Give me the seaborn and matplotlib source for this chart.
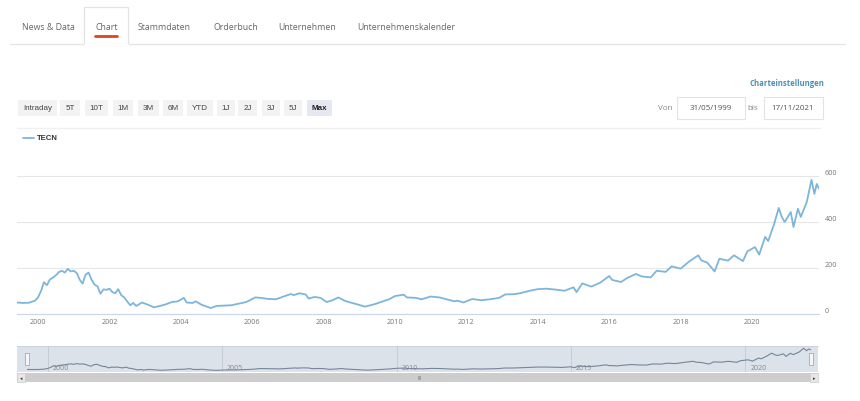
import numpy as np
import pandas as pd
import seaborn as sns
import matplotlib.pyplot as plt
from matplotlib.patches import Rectangle
from matplotlib.lines import Line2D
import matplotlib.transforms as mtransforms

# --- data (TECN, monthly-ish) ---
dates = [
    '1999-05-31', '1999-08-01', '1999-10-01', '1999-12-01', '2000-01-01', '2000-02-01',
    '2000-03-01', '2000-04-01', '2000-05-01', '2000-06-01', '2000-07-01', '2000-08-01',
    '2000-09-01', '2000-10-01', '2000-11-01', '2000-12-01', '2001-01-01', '2001-02-01',
    '2001-03-01', '2001-04-01', '2001-05-01', '2001-06-01', '2001-07-01', '2001-08-01',
    '2001-09-01', '2001-10-01', '2001-11-01', '2001-12-01', '2002-01-01', '2002-02-01',
    '2002-03-01', '2002-04-01', '2002-05-01', '2002-06-01', '2002-07-01', '2002-08-01',
    '2002-09-01', '2002-10-01', '2002-12-01', '2003-02-01', '2003-04-01', '2003-06-01',
    '2003-08-01', '2003-10-01', '2003-12-01', '2004-02-01', '2004-03-01', '2004-05-01',
    '2004-06-01', '2004-08-01', '2004-11-01', '2005-01-01', '2005-06-01', '2005-11-01',
    '2006-02-01', '2006-04-01', '2006-06-01', '2006-09-01', '2006-12-01', '2007-02-01',
    '2007-03-01', '2007-05-01', '2007-07-01', '2007-08-01', '2007-10-01', '2007-12-01',
    '2008-02-01', '2008-04-01', '2008-06-01', '2008-08-01', '2008-10-01', '2008-12-01',
    '2009-03-01', '2009-06-01', '2009-09-01', '2009-11-01', '2010-01-01', '2010-04-01',
    '2010-05-01', '2010-08-01', '2010-10-01', '2011-01-01', '2011-04-01', '2011-07-01',
    '2011-09-01', '2011-10-01', '2011-12-01', '2012-03-01', '2012-06-01', '2012-09-01',
    '2012-12-01', '2013-02-01', '2013-05-01', '2013-07-01', '2013-10-01', '2014-01-01',
    '2014-04-01', '2014-07-01', '2014-10-01', '2015-01-01', '2015-02-01', '2015-04-01',
    '2015-07-01', '2015-10-01', '2016-01-01', '2016-02-01', '2016-05-01', '2016-07-01',
    '2016-10-01', '2016-12-01', '2017-03-01', '2017-05-01', '2017-08-01', '2017-10-01',
    '2018-01-01', '2018-04-01', '2018-07-01', '2018-08-01', '2018-10-01', '2018-12-15',
    '2019-02-01', '2019-05-01', '2019-07-01', '2019-10-01', '2019-11-15', '2020-02-01',
    '2020-03-15', '2020-05-15', '2020-06-15', '2020-08-15', '2020-10-01', '2020-11-01',
    '2020-12-01', '2021-02-01', '2021-03-01', '2021-04-15', '2021-05-15', '2021-07-15',
    '2021-09-01', '2021-10-01', '2021-10-25', '2021-11-17',
]
tecn = [
    50, 48, 49, 58, 72, 100,
    138, 125, 150, 158, 168, 182,
    188, 180, 196, 185, 188, 178,
    150, 132, 170, 180, 150, 128,
    120, 88, 107, 105, 110, 95,
    90, 108, 82, 72, 55, 38,
    48, 35, 50, 40, 29, 35,
    42, 52, 55, 70, 50, 48,
    55, 40, 26, 35, 38, 52,
    72, 70, 66, 64, 78, 87,
    82, 90, 85, 67, 74, 70,
    52, 60, 72, 58, 50, 43,
    32, 42, 55, 64, 78, 84,
    72, 70, 64, 76, 72, 62,
    55, 58, 50, 65, 60, 64,
    70, 85, 86, 90, 100, 108,
    110, 106, 101, 116, 95, 133,
    119, 136, 165, 148, 139, 156,
    174, 163, 159, 188, 183, 207,
    197, 229, 255, 233, 223, 185,
    240, 232, 255, 230, 272, 291,
    258, 335, 317, 391, 461, 422,
    400, 443, 378, 457, 422, 487,
    583, 522, 565, 545,
]
y_ticks = [0, 200, 400, 600]
x_years = list(range(2000, 2021, 2))
nav_years = [2000, 2005, 2010, 2015, 2020]
tabs = ['News & Data', 'Chart', 'Stammdaten', 'Orderbuch', 'Unternehmen', 'Unternehmenskalender']
buttons = ['Intraday', '5T', '10T', '1M', '3M', '6M', 'YTD', '1J', '2J', '3J', '5J', 'Max']
date_from = '31/05/1999'
date_to = '17/11/2021'

df = pd.DataFrame({'date': pd.to_datetime(dates), 'TECN': tecn})

sns.set_theme(style='white')
plt.rcParams['font.family'] = ['Open Sans', 'DejaVu Sans']

W, H = 860, 402
fig = plt.figure(figsize=(W / 100, H / 100), dpi=100)


def fx(x):
    return x / W


def fy(y):
    return 1 - y / H


def rect(x0, y0, x1, y1, **kw):
    fig.add_artist(Rectangle((fx(x0), fy(y1)), fx(x1) - fx(x0), (y1 - y0) / H,
                             transform=fig.transFigure, **kw))


def hline(x0, x1, y, **kw):
    fig.add_artist(Line2D([fx(x0), fx(x1)], [fy(y), fy(y)], transform=fig.transFigure, **kw))


def txt(x, y, s, **kw):
    fig.text(fx(x), fy(y), s, **kw)


line_col = '#7db6da'
grey = '#666666'

# --- tab bar ---
tab_left = [22, 95, 138, 213, 278, 357]
hline(10, 845, 45, color='#e3e3e3', lw=0.9)
rect(84, 8, 128, 45.5, facecolor='white', edgecolor='#e3e3e3', lw=0.9)
hline(84.5, 127.5, 45.5, color='white', lw=1.5)
for name, x in zip(tabs, tab_left):
    txt(x, 27, name, fontsize=6.3, color=grey, va='center', ha='left')
hline(95, 117, 37, color='#d9481c', lw=2)

# --- range buttons ---
btn_box = [(18, 57), (60, 80), (85, 108), (113, 133), (138, 159), (163, 183),
           (187, 213), (217, 235), (238, 257), (262, 280), (284, 302), (307, 332)]
for name, (x0, x1) in zip(buttons, btn_box):
    sel = name == 'Max'
    rect(x0, 101, x1, 117, facecolor='#e6e8f1' if sel else '#f3f3f3', edgecolor='none')
    txt((x0 + x1) / 2, 109, name, fontsize=5.8, family='Liberation Sans',
        color='#222222' if sel else '#444444', weight='bold' if sel else 'normal',
        ha='center', va='center')

txt(824, 84, 'Charteinstellungen', fontsize=5.6, weight='bold', color='#4a90b4',
    ha='right', va='center')
txt(665, 109, 'Von', fontsize=5.8, color='#888888', ha='center', va='center')
rect(677, 98, 745, 120, facecolor='white', edgecolor='#e3e3e3', lw=0.8)
txt(711, 109, date_from, fontsize=5.8, color='#555555', ha='center', va='center')
txt(753, 109, 'bis', fontsize=5.8, color='#888888', ha='center', va='center')
rect(764, 98, 823, 120, facecolor='white', edgecolor='#e3e3e3', lw=0.8)
txt(793, 109, date_to, fontsize=5.8, color='#555555', ha='center', va='center')
hline(17, 820, 129, color='#f0f0f0', lw=1)

# legend
hline(23, 34, 139, color=line_col, lw=1.3)
txt(37, 139, 'TECN', fontsize=5.6, family='Liberation Sans', weight='bold',
    color='#333333', ha='left', va='center')

# --- main chart ---
ax = fig.add_axes([fx(17), fy(315), (819 - 17) / W, 165 / H])
sns.lineplot(data=df, x='date', y='TECN', ax=ax, color=line_col, lw=1.3)
ax.set_xlim(df['date'].min(), df['date'].max())
ax.set_ylim(0, 717)
ax.yaxis.tick_right()
ax.set_yticks(y_ticks, labels=[str(v) for v in y_ticks], va='bottom')
ax.set_xticks([pd.Timestamp(f'{y}-01-01') for y in x_years], labels=[str(y) for y in x_years])
ax.tick_params(axis='y', length=0, pad=4, labelsize=5.2, labelcolor='#777777')
ax.tick_params(axis='x', length=0, pad=3, labelsize=5.2, labelcolor='#777777')
ax.grid(axis='y', color='#e6e6e6', lw=0.8)
for s in ['top', 'left', 'right']:
    ax.spines[s].set_visible(False)
ax.spines['bottom'].set_color('#ccd6eb')
ax.spines['bottom'].set_linewidth(0.8)
ax.set_xlabel('')
ax.set_ylabel('')
ax.set_facecolor('none')

# --- navigator ---
rect(17, 347, 818, 373, facecolor='#dbe2ea', edgecolor='none', zorder=-2)
hline(17, 818, 347, color='#c8cfd8', lw=0.6, zorder=-1)
nav = fig.add_axes([fx(27), fy(373), 784 / W, 26 / H])
nav.set_facecolor('none')
sns.lineplot(data=df, x='date', y='TECN', ax=nav, color='#75869a', lw=0.8)
nav.set_xlim(df['date'].min(), df['date'].max())
nav.set_ylim(-15, 640)
nav.set_xticks([])
nav.set_yticks([])
nav.set_xlabel('')
nav.set_ylabel('')
for s in nav.spines.values():
    s.set_visible(False)
trans = mtransforms.blended_transform_factory(nav.transData, nav.transAxes)
for y in nav_years:
    d = pd.Timestamp(f'{y}-01-01')
    nav.axvline(d, color='#c3cad4', lw=0.6, zorder=0)
    nav.text(d + pd.Timedelta(days=50), 0.18, str(y), transform=trans,
             fontsize=5, color='#8a8a8a', ha='left', va='center')

# handles
for x0 in [25, 809]:
    rect(x0, 354, x0 + 4, 366, facecolor='#f7f7f7', edgecolor='#aaaaaa', lw=0.6, zorder=3)

# scrollbar
rect(17, 374, 818, 383, facecolor='#cdcdcd', edgecolor='none')
rect(17, 374, 25, 383, facecolor='#e6e6e6', edgecolor='#cccccc', lw=0.5)
rect(810, 374, 818, 383, facecolor='#e6e6e6', edgecolor='#cccccc', lw=0.5)
txt(21, 378.5, '◂', fontsize=3.5, color='#333333', ha='center', va='center', family='DejaVu Sans')
txt(814, 378.5, '▸', fontsize=3.5, color='#333333', ha='center', va='center', family='DejaVu Sans')
txt(420, 378.5, 'III', fontsize=3.5, color='#777777', ha='center', va='center', family='DejaVu Sans')

fig.savefig('out.png', dpi=100)
